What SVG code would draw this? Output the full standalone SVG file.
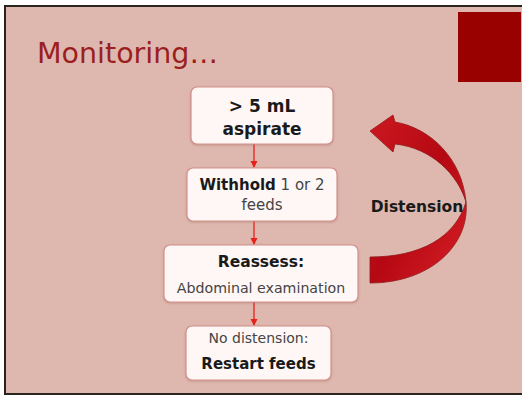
<svg xmlns="http://www.w3.org/2000/svg" width="522" height="396" viewBox="0 0 522 396">
<defs>
<style>
.box{fill:#FEF7F5;stroke:#D4908C;stroke-width:1.2}
.t{font-family:"DejaVu Sans","Liberation Sans",sans-serif;fill:#1a1a1a;text-anchor:middle}
.b{font-weight:bold}
.r{fill:#444444}
.conn{stroke:#E8201C;stroke-width:1.3;fill:none}
</style>
<marker id="ah" markerWidth="8" markerHeight="8" refX="6" refY="3.5" orient="auto" markerUnits="userSpaceOnUse">
<path d="M0,0 L7,3.5 L0,7 Z" fill="#E8201C"/>
</marker>
<linearGradient id="rg" x1="0" y1="0" x2="1" y2="1">
<stop offset="0" stop-color="#CC1820"/>
<stop offset="0.5" stop-color="#B50812"/>
<stop offset="1" stop-color="#D82028"/>
</linearGradient>
<filter id="sh" x="-10%" y="-10%" width="120%" height="130%">
<feDropShadow dx="0" dy="1" stdDeviation="1" flood-color="#8a5a50" flood-opacity="0.35"/>
</filter>
</defs>
<rect x="0" y="0" width="522" height="396" fill="#ffffff"/>
<rect x="5" y="6" width="520" height="388" fill="#DEB8AE" stroke="#2A2420" stroke-width="2"/>
<rect x="458" y="12" width="63" height="70" fill="#990000"/>
<text x="37" y="63" font-family="'DejaVu Sans','Liberation Sans',sans-serif" font-size="28.5" fill="#9C1E1E">Monitoring…</text>

<g id="connectors">
<line class="conn" x1="254" y1="144" x2="254" y2="167" marker-end="url(#ah)"/>
<line class="conn" x1="254" y1="221" x2="254" y2="244" marker-end="url(#ah)"/>
<line class="conn" x1="254" y1="302" x2="254" y2="325" marker-end="url(#ah)"/>
<path id="loop" d="M370,131 L393,115 L395,122 C430,128 462,158 466,202 C470,245 430,283 370,283 L370,257 C420,257 455,238 466,202 C458,175 432,148 395,144 L393,152 Z" fill="url(#rg)" stroke="#8E1A1A" stroke-width="0.8"/>
<text class="t b" x="417" y="212" font-size="15.5">Distension</text>
</g>

<g id="n1">
<rect class="box" x="191" y="87" width="142" height="57" rx="6" filter="url(#sh)"/>
<text class="t b" x="262" y="112" font-size="17">&gt; 5 mL</text>
<text class="t b" x="262" y="135" font-size="17">aspirate</text>
</g>
<g id="n2">
<rect class="box" x="187" y="168" width="150" height="53" rx="6" filter="url(#sh)"/>
<text class="t" x="262" y="190" font-size="15"><tspan class="b">Withhold</tspan><tspan class="r"> 1 or 2</tspan></text>
<text class="t r" x="262" y="210" font-size="15">feeds</text>
</g>
<g id="n3">
<rect class="box" x="164" y="245" width="194" height="57" rx="6" filter="url(#sh)"/>
<text class="t b" x="261" y="267" font-size="15.5">Reassess:</text>
<text class="t r" x="261" y="293" font-size="14.2">Abdominal examination</text>
</g>
<g id="n4">
<rect class="box" x="186" y="326" width="145" height="54" rx="6" filter="url(#sh)"/>
<text class="t r" x="258.5" y="343" font-size="14">No distension:</text>
<text class="t b" x="258.5" y="369" font-size="15">Restart feeds</text>
</g>
</svg>
